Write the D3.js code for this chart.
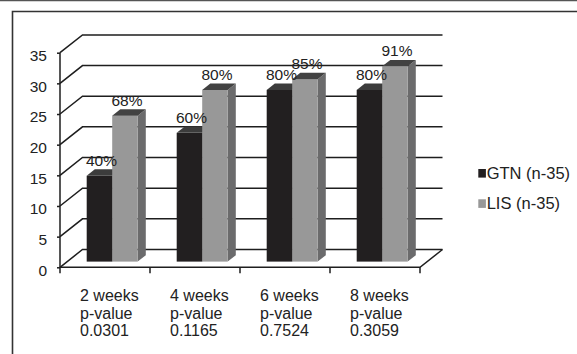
<!DOCTYPE html>
<html>
<head>
<meta charset="utf-8">
<script src="https://cdn.jsdelivr.net/npm/d3@7"></script>
<style>
  html, body { margin: 0; padding: 0; background: #fff; }
  svg { display: block; font-family: "Liberation Sans", Arial, sans-serif; }
</style>
</head>
<body>
<svg id="chart" width="577" height="354"></svg>
<script>
// Healing rate per visit, as percentages of each group of 35 patients
const categories = ["2 weeks", "4 weeks", "6 weeks", "8 weeks"];
const pValues = ["0.0301", "0.1165", "0.7524", "0.3059"];
const seriesNames = ["GTN (n-35)", "LIS (n-35)"];
const gtnPct = [40, 60, 80, 80];
const lisPct = [68, 80, 85, 91];
const groupSize = 35;
const yTicks = [0, 5, 10, 15, 20, 25, 30, 35];

const seriesPct = [gtnPct, lisPct];
const seriesKeys = ["GTN", "LIS"];
const colors = {
  GTN: { front: "#221f20", top: "#3c3c3c", side: "#2e2e2e" },
  LIS: { front: "#989898", top: "#424242", side: "#6b6b6c" }
};

const svg = d3.select("#chart");

// frame
svg.append("line").attr("x1", 0).attr("x2", 577).attr("y1", 0.5).attr("y2", 0.5)
  .attr("stroke", "#555").attr("stroke-width", 1.5);
svg.append("path").attr("d", "M12.5,360V11.5H580")
  .attr("fill", "none").attr("stroke", "#333").attr("stroke-width", 1.6);

// 3D plot geometry
const x0 = 60, x1 = 420;
const depth = { dx: 22.5, dy: -17.8 };
const barFrontFrac = 0.32, barDepthFrac = 0.36;

const y = d3.scaleLinear().domain([0, 35]).range([267.3, 52.7]);
const x = d3.scaleBand().domain(categories).range([x0, x1]);
const xs = d3.scaleBand().domain(seriesKeys).range([-25.5, 25.5]);

const gridStroke = "#1e1e1e";

// back wall + left wall gridlines
const grid = svg.append("g").attr("fill", "none").attr("stroke", gridStroke).attr("stroke-width", 1.5);
yTicks.forEach(v => {
  const yy = y(v);
  grid.append("path").attr("d",
    `M${x0},${yy}L${x0 + depth.dx},${yy + depth.dy}L${x1 + depth.dx},${yy + depth.dy}`);
});
// floor front edge and right diagonal
grid.append("path").attr("d",
  `M${x0},${y(0)}L${x1},${y(0)}L${x1 + depth.dx},${y(0) + depth.dy}`);

// value axis
const yAxis = d3.axisLeft(y).tickValues(yTicks).tickSize(3).tickPadding(10);
const yg = svg.append("g").attr("transform", `translate(${x0},0)`).call(yAxis);
yg.select(".domain").attr("stroke", gridStroke).attr("stroke-width", 1.5)
  .attr("d", `M0,${y(0)}V${y(35)}`);
yg.selectAll(".tick line").attr("stroke", gridStroke).attr("stroke-width", 1.5);
yg.selectAll(".tick text").attr("font-size", 15.5).attr("fill", "#222")
  .attr("font-family", "Liberation Sans, Arial, sans-serif").attr("dy", "0.5em");

// category ticks at band edges
const edges = categories.map(c => x(c)).concat([x1]);
svg.append("g").selectAll("line").data(edges).join("line")
  .attr("x1", d => d).attr("x2", d => d)
  .attr("y1", y(0)).attr("y2", y(0) + 6)
  .attr("stroke", gridStroke).attr("stroke-width", 1.5);

// bars
const offX = barFrontFrac * depth.dx, offY = barFrontFrac * depth.dy;
const bdx = barDepthFrac * depth.dx, bdy = barDepthFrac * depth.dy;
const bars = svg.append("g");
const labels = [];
categories.forEach((cat, i) => {
  seriesKeys.forEach((key, s) => {
    const pct = seriesPct[s][i];
    const value = pct / 100 * groupSize;
    const left = x(cat) + x.bandwidth() / 2 + xs(key) + offX;
    const right = left + xs.bandwidth();
    const base = y(0) + offY;
    const top = y(value) + offY;
    const c = colors[key];
    // right side face
    bars.append("path")
      .attr("d", `M${right},${base}L${right},${top}L${right + bdx},${top + bdy}L${right + bdx},${base + bdy}Z`)
      .attr("fill", c.side);
    // front face
    bars.append("rect").attr("x", left).attr("y", top)
      .attr("width", right - left).attr("height", base - top).attr("fill", c.front);
    // top face
    bars.append("path")
      .attr("d", `M${left},${top}L${right},${top}L${right + bdx},${top + bdy}L${left + bdx},${top + bdy}Z`)
      .attr("fill", c.top);
    labels.push({ x: (left + right) / 2 + 2, y: top + bdy - 3.5, text: pct + "%" });
  });
});

// data labels
svg.append("g").selectAll("text").data(labels).join("text")
  .attr("x", d => d.x).attr("y", d => d.y)
  .attr("text-anchor", "middle").attr("font-size", 15.5).attr("fill", "#222")
  .text(d => d.text);

// category labels (three lines each)
const catG = svg.append("g").attr("font-size", 16).attr("fill", "#222");
categories.forEach((cat, i) => {
  const t = catG.append("text");
  [cat, "p-value", pValues[i]].forEach((line, k) => {
    t.append("tspan").attr("x", x(cat) + x.bandwidth() / 2 - 25)
      .attr("y", 301 + k * 17.7).text(line);
  });
});

// legend
const legend = svg.append("g").selectAll("g").data(seriesNames).join("g")
  .attr("transform", (d, i) => `translate(478.3,${169 + i * 30.3})`);
legend.append("rect").attr("width", 7.6).attr("height", 8.6)
  .attr("fill", (d, i) => colors[seriesKeys[i]].front);
legend.append("text").attr("x", 8.4).attr("y", 9.8)
  .attr("font-size", 16.5).attr("fill", "#222").text(d => d);
</script>
</body>
</html>
